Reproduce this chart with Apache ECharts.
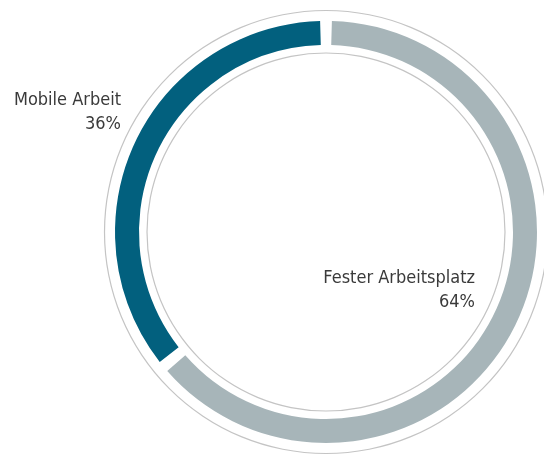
<!DOCTYPE html>
<html>
<head>
<meta charset="utf-8">
<script src="https://cdn.jsdelivr.net/npm/echarts@6/dist/echarts.min.js"></script>
<style>
  html, body { margin: 0; padding: 0; background: #fff; }
  #chart { width: 544px; height: 455px; }
</style>
</head>
<body>
<div id="chart"></div>
<script>
// Arbeitsort-Anteile in Prozent
var categories = ['Mobile Arbeit', 'Fester Arbeitsplatz'];
var values = [36, 64];
var colors = ['#02607e', '#a7b5b9'];

// label anchor (right edge, vertical middle) per slice
var labelPos = [[121, 112], [475, 290]];

var chartDom = document.getElementById('chart');
var myChart = echarts.init(chartDom);
var center = [326, 232];

function thinRing(r) {
  return {
    type: 'pie',
    silent: true,
    center: center,
    radius: [r - 0.6, r + 0.6],
    label: { show: false },
    labelLine: { show: false },
    itemStyle: { color: '#c4c4c4' },
    data: [{ value: 1, name: '' }],
    z: 1
  };
}

var option = {
  animation: false,
  series: [
    thinRing(221.5),
    thinRing(179),
    {
      type: 'pie',
      center: center,
      radius: [187, 211],
      startAngle: 90,
      clockwise: false,
      padAngle: 3.2,
      silent: true,
      z: 2,
      label: {
        show: true,
        position: 'inside',
        formatter: '{b}\n{c}%',
        fontFamily: "'DejaVu Sans Condensed', 'Liberation Sans Narrow', sans-serif",
        fontSize: 18,
        lineHeight: 24,
        color: '#3a3a3a',
        align: 'right',
        overflow: 'none'
      },
      labelLine: { show: false },
      labelLayout: function (params) {
        var p = labelPos[params.dataIndex];
        return { x: p[0], y: p[1], align: 'right', verticalAlign: 'middle', hideOverlap: false };
      },
      data: categories.map(function (c, i) {
        return { name: c, value: values[i], itemStyle: { color: colors[i] } };
      })
    }
  ]
};
option && myChart.setOption(option);
</script>
</body>
</html>
